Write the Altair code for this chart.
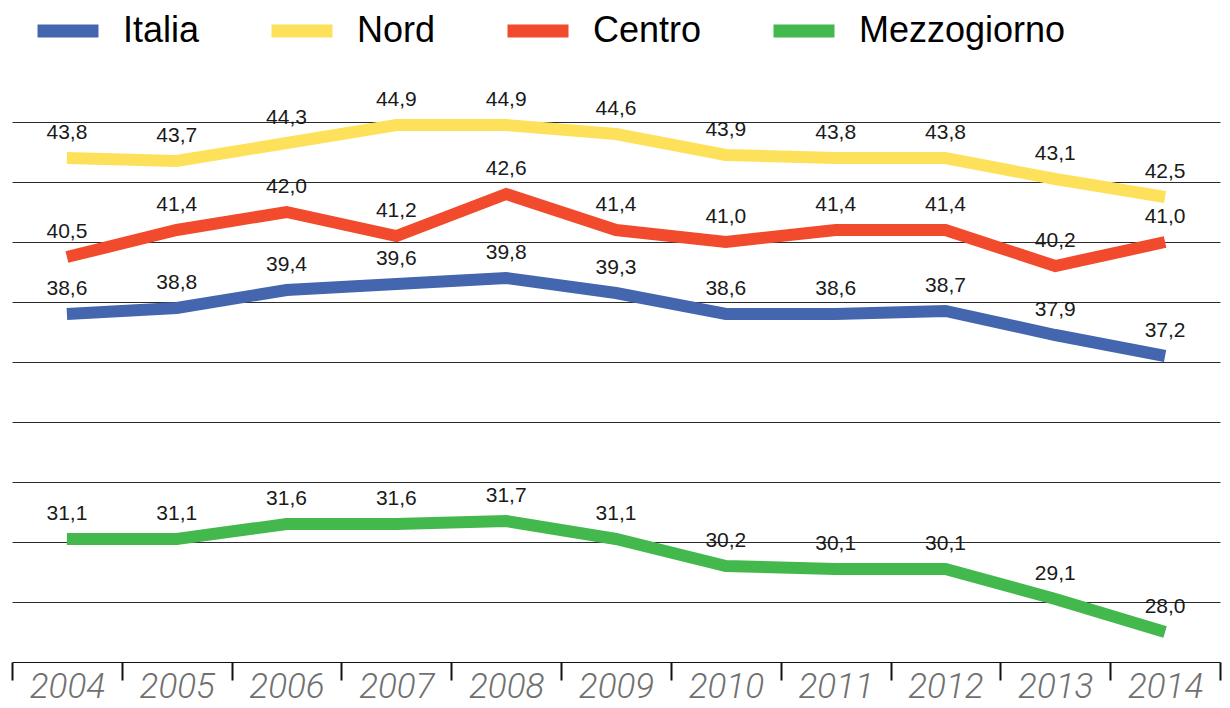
import altair as alt
import pandas as pd

years = ["2004", "2005", "2006", "2007", "2008", "2009", "2010", "2011", "2012", "2013", "2014"]
series_names = ["Italia", "Nord", "Centro", "Mezzogiorno"]
italia = [38.6, 38.8, 39.4, 39.6, 39.8, 39.3, 38.6, 38.6, 38.7, 37.9, 37.2]
nord = [43.8, 43.7, 44.3, 44.9, 44.9, 44.6, 43.9, 43.8, 43.8, 43.1, 42.5]
centro = [40.5, 41.4, 42.0, 41.2, 42.6, 41.4, 41.0, 41.4, 41.4, 40.2, 41.0]
mezzogiorno = [31.1, 31.1, 31.6, 31.6, 31.7, 31.1, 30.2, 30.1, 30.1, 29.1, 28.0]
colors = ["#4466AE", "#FEE15B", "#F24A2C", "#43B84D"]
grid_values = [29, 31, 33, 35, 37, 39, 41, 43, 45]

rows = []
for name, vals in zip(series_names, [italia, nord, centro, mezzogiorno]):
    for y, v in zip(years, vals):
        rows.append({"anno": y, "serie": name, "valore": v, "ordine": series_names.index(name)})
df = pd.DataFrame(rows)

FONT = "'Liberation Sans', Arial, Helvetica, sans-serif"

x_scale = alt.Scale(type="band", paddingInner=0, paddingOuter=0)

x_enc = alt.X(
    "anno:O",
    sort=years,
    scale=x_scale,
    axis=alt.Axis(
        title=None,
        tickBand="extent",
        tickSize=18,
        tickWidth=2,
        tickColor="#111111",
        domainColor="#111111",
        domainWidth=1.2,
        labelFont="Roboto, 'Liberation Sans', sans-serif",
        labelFontStyle="italic",
        labelFontWeight=300,
        labelFontSize=35,
        labelColor="#707070",
        labelPadding=-11,
        labelAngle=0,
        grid=False,
    ),
)
y_enc = alt.Y(
    "valore:Q",
    scale=alt.Scale(domain=[27, 47], nice=False, zero=False),
    axis=alt.Axis(
        title=None,
        values=grid_values,
        grid=True,
        gridColor="#2a2a2a",
        gridWidth=1,
        labels=False,
        ticks=False,
        domain=False,
    ),
)

base = alt.Chart(df)

lines = base.mark_line(strokeWidth=12, strokeCap="butt", strokeJoin="miter").encode(
    x=x_enc,
    y=y_enc,
    color=alt.Color(
        "serie:N",
        scale=alt.Scale(domain=series_names, range=colors),
        legend=alt.Legend(
            orient="none",
            legendX=19,
            legendY=-68,
            direction="horizontal",
            title=None,
            symbolType="stroke",
            symbolStrokeWidth=13,
            symbolSize=3721,
            labelFontSize=36,
            labelFont=FONT,
            labelColor="#000000",
            labelOffset=18,
            labelLimit=400,
            columnPadding=45,
            padding=0,
        ),
    ),
    detail="serie:N",
    order="ordine:Q",
)

labels = base.transform_calculate(
    etichetta="replace(format(datum.valore, '.1f'), '.', ',')"
).mark_text(dy=-25, fontSize=21, font=FONT, color="#1a1a1a").encode(
    x=alt.X("anno:O", sort=years, scale=x_scale),
    y=alt.Y("valore:Q"),
    text="etichetta:N",
)

chart = (
    alt.layer(lines, labels)
    .properties(
        width=1208,
        height=600,
        autosize=alt.AutoSizeParams(type="none"),
        padding={"left": 4, "top": 54, "right": 2, "bottom": 44},
    )
    .configure_view(stroke=None)
)

chart.save("out.html", embed_options={"renderer": "svg", "actions": False})
